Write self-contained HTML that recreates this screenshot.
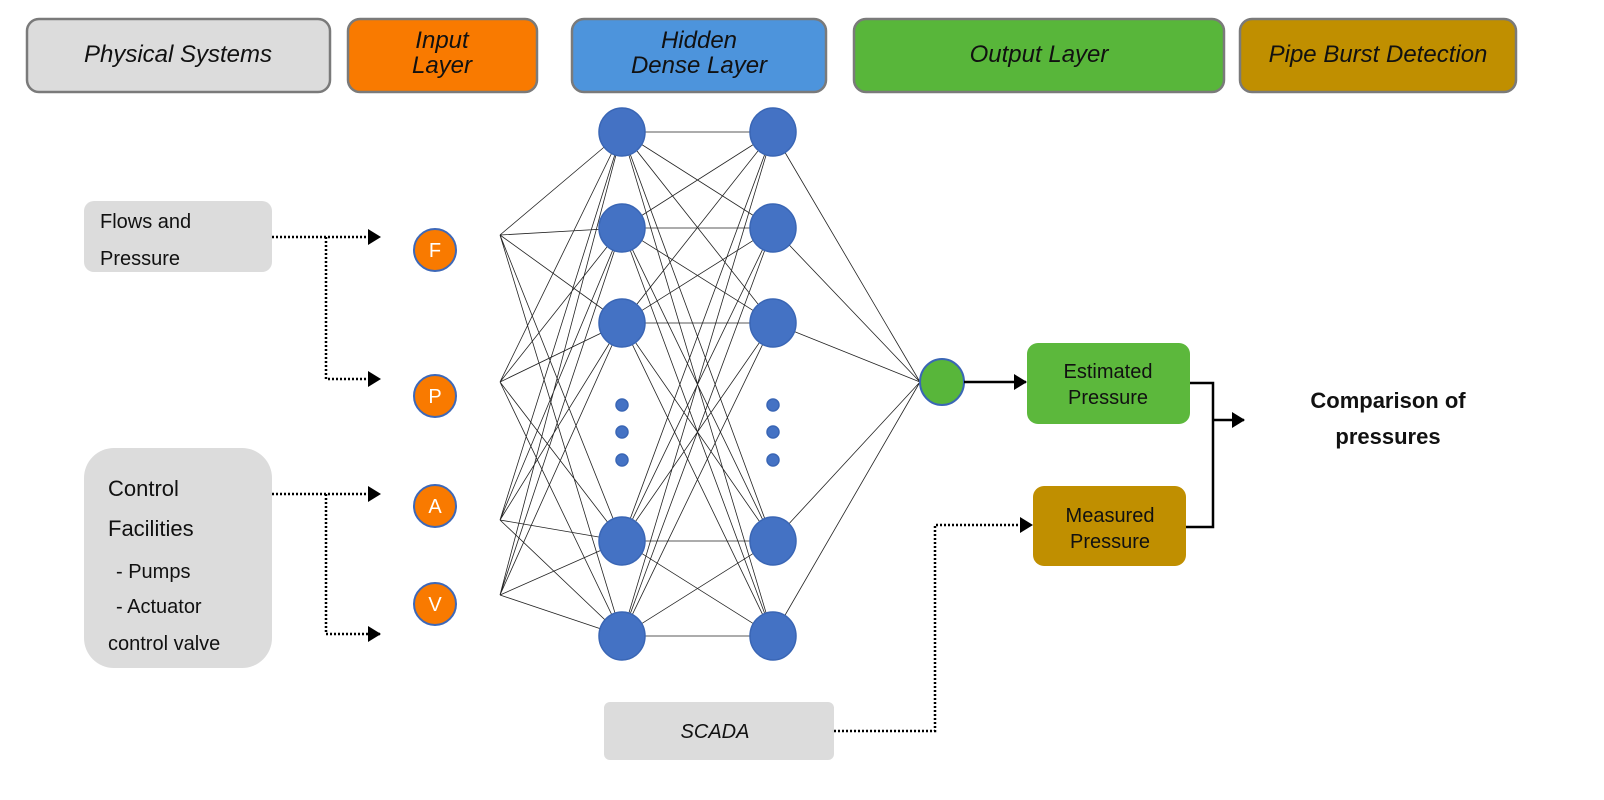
<!DOCTYPE html>
<html><head><meta charset="utf-8"><style>
html,body{margin:0;padding:0;background:#fff;}
svg{display:block;font-family:"Liberation Sans",Arial,sans-serif;}
</style></head><body>
<svg width="1604" height="800" viewBox="0 0 1604 800" xmlns="http://www.w3.org/2000/svg">
<defs>
<marker id="ah" markerWidth="14" markerHeight="16" refX="12" refY="8" orient="auto" markerUnits="userSpaceOnUse"><path d="M0,0 L13,8 L0,16 z" fill="#000"/></marker>
</defs>
<g stroke="#7a7a7a" stroke-width="2.5">
<rect x="27" y="19" width="303" height="73" rx="12" fill="#dcdcdc"/>
<rect x="348" y="19" width="189" height="73" rx="12" fill="#f97a00"/>
<rect x="572" y="19" width="254" height="73" rx="12" fill="#4d94dc"/>
<rect x="854" y="19" width="370" height="73" rx="12" fill="#58b63a"/>
<rect x="1240" y="19" width="276" height="73" rx="12" fill="#c08f00"/>
</g>
<g font-style="italic" font-size="24" text-anchor="middle" fill="#111">
<text x="178" y="62">Physical Systems</text>
<text x="442" y="48">Input</text><text x="442" y="73">Layer</text>
<text x="699" y="48">Hidden</text><text x="699" y="73">Dense Layer</text>
<text x="1039" y="62">Output Layer</text>
<text x="1378" y="62">Pipe Burst Detection</text>
</g>
<rect x="84" y="201" width="188" height="71" rx="10" fill="#dcdcdc"/>
<text x="100" y="228" font-size="20" fill="#111">Flows and</text>
<text x="100" y="265" font-size="20" fill="#111">Pressure</text>
<rect x="84" y="448" width="188" height="220" rx="30" fill="#dcdcdc"/>
<g font-size="22" fill="#111">
<text x="108" y="496">Control</text>
<text x="108" y="536">Facilities</text>
<text x="116" y="578" font-size="20">- Pumps</text>
<text x="116" y="613" font-size="20">- Actuator</text>
<text x="108" y="650" font-size="20">control valve</text>
</g>
<g stroke="#000" stroke-width="2.5" stroke-dasharray="2,2" fill="none">
<path d="M272,237 H380" marker-end="url(#ah)"/>
<path d="M326,237 V379 H380" marker-end="url(#ah)"/>
<path d="M272,494 H380" marker-end="url(#ah)"/>
<path d="M326,494 V634 H380" marker-end="url(#ah)"/>
<path d="M834,731 H935 V525 H1032" marker-end="url(#ah)"/>
</g>
<g fill="#f97a00" stroke="#3d68b8" stroke-width="2">
<circle cx="435" cy="250" r="21"/><circle cx="435" cy="396" r="21"/>
<circle cx="435" cy="506" r="21"/><circle cx="435" cy="604" r="21"/>
</g>
<g fill="#fff" font-size="20" text-anchor="middle">
<text x="435" y="257">F</text><text x="435" y="403">P</text><text x="435" y="513">A</text><text x="435" y="611">V</text>
</g>
<g stroke="#222" stroke-width="0.8" fill="none">
<path d="M500,235L622,132M500,235L622,228M500,235L622,323M500,235L622,541M500,235L622,636
M500,382L622,132M500,382L622,228M500,382L622,323M500,382L622,541M500,382L622,636
M500,520L622,132M500,520L622,228M500,520L622,323M500,520L622,541M500,520L622,636
M500,595L622,132M500,595L622,228M500,595L622,323M500,595L622,541M500,595L622,636
M622,132L773,132M622,132L773,228M622,132L773,323M622,132L773,541M622,132L773,636
M622,228L773,132M622,228L773,228M622,228L773,323M622,228L773,541M622,228L773,636
M622,323L773,132M622,323L773,228M622,323L773,323M622,323L773,541M622,323L773,636
M622,541L773,132M622,541L773,228M622,541L773,323M622,541L773,541M622,541L773,636
M622,636L773,132M622,636L773,228M622,636L773,323M622,636L773,541M622,636L773,636
M773,132L920,382M773,228L920,382M773,323L920,382M773,541L920,382M773,636L920,382"/>
</g>
<g fill="#4472c4" stroke="#3a66b5" stroke-width="1.5">
<ellipse cx="622" cy="132" rx="23" ry="24"/><ellipse cx="622" cy="228" rx="23" ry="24"/><ellipse cx="622" cy="323" rx="23" ry="24"/><ellipse cx="622" cy="541" rx="23" ry="24"/><ellipse cx="622" cy="636" rx="23" ry="24"/>
<ellipse cx="773" cy="132" rx="23" ry="24"/><ellipse cx="773" cy="228" rx="23" ry="24"/><ellipse cx="773" cy="323" rx="23" ry="24"/><ellipse cx="773" cy="541" rx="23" ry="24"/><ellipse cx="773" cy="636" rx="23" ry="24"/>
<circle cx="622" cy="405" r="6"/><circle cx="622" cy="432" r="6"/><circle cx="622" cy="460" r="6"/>
<circle cx="773" cy="405" r="6"/><circle cx="773" cy="432" r="6"/><circle cx="773" cy="460" r="6"/>
</g>
<ellipse cx="942" cy="382" rx="22" ry="23" fill="#58b63a" stroke="#3a66b5" stroke-width="2"/>
<path d="M964,382 H1026" stroke="#000" stroke-width="2.5" marker-end="url(#ah)"/>
<rect x="1027" y="343" width="163" height="81" rx="11" fill="#5cb83c"/>
<text x="1108" y="378" font-size="20" text-anchor="middle" fill="#111">Estimated</text>
<text x="1108" y="404" font-size="20" text-anchor="middle" fill="#111">Pressure</text>
<rect x="1033" y="486" width="153" height="80" rx="11" fill="#c08f00"/>
<text x="1110" y="522" font-size="20" text-anchor="middle" fill="#111">Measured</text>
<text x="1110" y="548" font-size="20" text-anchor="middle" fill="#111">Pressure</text>
<path d="M1190,383 H1213 V527 H1186" stroke="#000" stroke-width="2.5" fill="none"/>
<path d="M1213,420 H1244" stroke="#000" stroke-width="2.5" marker-end="url(#ah)"/>
<text x="1388" y="408" font-size="22" font-weight="bold" text-anchor="middle" fill="#111">Comparison of</text>
<text x="1388" y="444" font-size="22" font-weight="bold" text-anchor="middle" fill="#111">pressures</text>
<rect x="604" y="702" width="230" height="58" rx="6" fill="#dcdcdc"/>
<text x="715" y="738" font-size="20" font-style="italic" text-anchor="middle" fill="#111">SCADA</text>
</svg>
</body></html>
